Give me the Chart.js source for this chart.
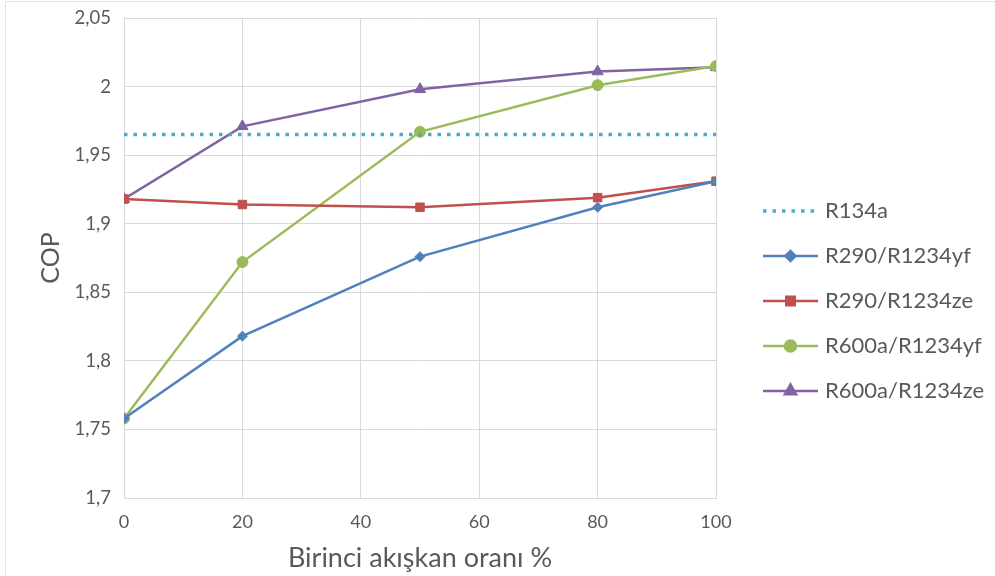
<!DOCTYPE html>
<html>
<head>
<meta charset="utf-8">
<script src="https://cdn.jsdelivr.net/npm/chart.js@4.4.1/dist/chart.umd.min.js"></script>
<style>
  html, body { margin: 0; background: #fff; }
  #wrap { position: relative; width: 995px; height: 576px; }
  #frame { position: absolute; left: 5px; top: 1px; right: 0; bottom: 0;
           border-left: 1px solid #e2e2e2; border-top: 1px solid #e2e2e2; }
  #chart { position: absolute; left: 0; top: 0; }
</style>
</head>
<body>
<div id="wrap">
  <div id="frame"></div>
  <canvas id="chart" width="995" height="576"></canvas>
</div>
<script>
// Birinci akışkan oranı (%) and COP per mixture
const ratios = [0, 20, 50, 80, 100];
const r134aCop = 1.965;
const r290yf = [1.758, 1.818, 1.876, 1.912, 1.931];
const r290ze = [1.918, 1.914, 1.912, 1.919, 1.931];
const r600ayf = [1.758, 1.872, 1.967, 2.001, 2.015];
const r600aze = [1.918, 1.971, 1.998, 2.011, 2.014];

const xTicks = [0, 20, 40, 60, 80, 100];
const yMin = 1.7, yMax = 2.05, yStep = 0.05;

const FONT = 'Lato, "Open Sans", sans-serif';
const TEXT = '#595959';
const GRID = '#d9d9d9';

const toPoints = (ys) => ratios.map((x, i) => ({ x, y: ys[i] }));
const comma = (v) => String(Math.round(v * 100) / 100).replace('.', ',');

const series = (label, ys, color, pointStyle, radius) => ({
  label,
  data: toPoints(ys),
  borderColor: color,
  backgroundColor: color,
  borderWidth: 2.5,
  pointStyle,
  pointRadius: radius,
  pointBorderWidth: 1,
  pointBorderColor: color,
  pointBackgroundColor: color,
  showLine: true,
  tension: 0,
});

// legend drawn at the right: a line with the marker in its middle, then the name
const sideLegend = {
  id: 'sideLegend',
  afterDraw(chart) {
    const { ctx, chartArea } = chart;
    const x0 = chartArea.right + 47;
    const lineLen = 55;
    let y = 211;
    ctx.save();
    chart.data.datasets.forEach((ds) => {
      ctx.strokeStyle = ds.borderColor;
      ctx.lineWidth = ds.borderWidth;
      ctx.setLineDash(ds.borderDash || []);
      ctx.beginPath();
      ctx.moveTo(x0, y);
      ctx.lineTo(x0 + lineLen, y);
      ctx.stroke();
      ctx.setLineDash([]);
      if (ds.pointRadius > 0) {
        ctx.fillStyle = ds.backgroundColor;
        Chart.helpers.drawPoint(ctx, {
          pointStyle: ds.pointStyle, radius: ds.pointRadius, rotation: 0, borderWidth: 1,
        }, x0 + lineLen / 2, y);
      }
      ctx.fillStyle = TEXT;
      ctx.font = '22px ' + FONT;
      ctx.textBaseline = 'middle';
      ctx.textAlign = 'left';
      ctx.fillText(ds.label, x0 + lineLen + 7, y);
      y += 45;
    });
    ctx.restore();
  }
};

new Chart(document.getElementById('chart'), {
  type: 'scatter',
  data: {
    datasets: [
      {
        label: 'R134a',
        data: [{ x: ratios[0], y: r134aCop }, { x: ratios[ratios.length - 1], y: r134aCop }],
        borderColor: '#4BACC6',
        backgroundColor: '#4BACC6',
        borderWidth: 3.5,
        borderDash: [3.5, 6],
        pointRadius: 0,
        showLine: true,
      },
      series('R290/R1234yf', r290yf, '#4F81BD', 'rectRot', 5),
      series('R290/R1234ze', r290ze, '#C0504D', 'rect', 6),
      series('R600a/R1234yf', r600ayf, '#9BBB59', 'circle', 5.5),
      series('R600a/R1234ze', r600aze, '#8064A2', 'triangle', 6.5),
    ],
  },
  options: {
    responsive: false,
    animation: false,
    layout: { padding: { left: 30, right: 279, top: 18, bottom: 2 } },
    plugins: { legend: { display: false }, tooltip: { enabled: false } },
    scales: {
      x: {
        type: 'linear',
        min: xTicks[0],
        max: xTicks[xTicks.length - 1],
        afterBuildTicks: (scale) => { scale.ticks = xTicks.map((value) => ({ value })); },
        grid: { color: GRID, drawTicks: false },
        border: { color: GRID },
        ticks: { color: TEXT, font: { family: FONT, size: 18 }, padding: 13 },
        title: { display: true, text: 'Birinci akışkan oranı %', color: TEXT, font: { family: FONT, size: 27 }, padding: { top: 6, bottom: 0 } },
        afterFit: (scale) => { scale.height = 76; scale.paddingLeft = 0; scale.paddingRight = 0; },
      },
      y: {
        type: 'linear',
        min: yMin,
        max: yMax,
        ticks: { stepSize: yStep, color: TEXT, font: { family: FONT, size: 18.5 }, padding: 13, callback: (v) => comma(v) },
        grid: { color: GRID, drawTicks: false },
        border: { color: GRID },
        title: { display: true, text: 'COP', color: TEXT, font: { family: FONT, size: 25 }, padding: { top: 6, bottom: 0 } },
        afterFit: (scale) => { scale.width = 94; scale.paddingTop = 0; scale.paddingBottom = 0; },
      },
    },
  },
  plugins: [sideLegend],
});
</script>
</body>
</html>
